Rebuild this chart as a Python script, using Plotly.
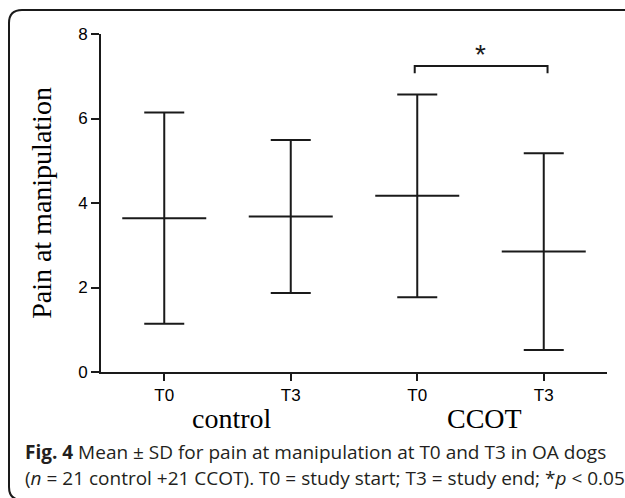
import plotly.graph_objects as go

categories = ["control T0", "control T3", "CCOT T0", "CCOT T3"]
tick_labels = ["T0", "T3", "T0", "T3"]
groups = ["control", "CCOT"]
means = [3.64, 3.68, 4.17, 2.85]
sds = [2.50, 1.81, 2.40, 2.33]
y_ticks = [0, 2, 4, 6, 8]
caption1 = "<b>Fig. 4</b> Mean ± SD for pain at manipulation at T0 and T3 in OA dogs"
caption2 = "(<i>n</i> = 21 control +21 CCOT). T0 = study start; T3 = study end; *<i>p</i> < 0.05"

INK = "#1a1a1a"
L, R, T, B = 101, 607, 34, 372
W, H = R - L, B - T


def px(x):
    return (x - L) / W


def py(y):
    return (B - y) / H


xs = list(range(len(categories)))

fig = go.Figure()
fig.add_trace(go.Scatter(
    x=xs, y=means, mode="markers",
    marker=dict(symbol="line-ew", size=60, color=INK, line=dict(width=2, color=INK)),
    error_y=dict(type="data", array=sds, visible=True, width=20, thickness=2, color=INK),
    showlegend=False, hoverinfo="skip",
))

# significance bracket between CCOT T0 and CCOT T3
fig.add_shape(type="path", xref="x", yref="y",
              path="M 1.98,7.07 L 1.98,7.24 L 3.03,7.24 L 3.03,7.07",
              line=dict(color=INK, width=2))
fig.add_annotation(x=2.5, y=7.52, xref="x", yref="y", text="*", showarrow=False,
                   font=dict(family="Liberation Sans, Arial", size=28, color=INK))

# group labels
for gx, g in zip([0.5, 2.5], groups):
    fig.add_annotation(x=gx, xshift=4, y=py(418), xref="x", yref="paper", text=g,
                       showarrow=False, yanchor="middle",
                       font=dict(family="Liberation Serif, Times New Roman, serif", size=28, color="#000"))

# caption
fig.add_annotation(x=px(23), y=py(452), xref="paper", yref="paper", text=caption1,
                   showarrow=False, xanchor="left", yanchor="middle",
                   font=dict(family="Open Sans", size=19, color="#231f20"))
fig.add_annotation(x=px(23), y=py(478), xref="paper", yref="paper", text=caption2,
                   showarrow=False, xanchor="left", yanchor="middle",
                   font=dict(family="Open Sans", size=19, color="#231f20"))

# rounded frame (open to right/bottom, cropped)
x0, y0, r = 9, 10, 13
yb = 500
frame = (f"M {px(640)},{py(y0)} L {px(x0 + r)},{py(y0)} "
         f"Q {px(x0)},{py(y0)} {px(x0)},{py(y0 + r)} "
         f"L {px(x0)},{py(yb - r)} Q {px(x0)},{py(yb)} {px(x0 + r)},{py(yb)} "
         f"L {px(640)},{py(yb)}")
fig.add_shape(type="path", xref="paper", yref="paper", path=frame,
              line=dict(color=INK, width=2), layer="above")

fig.update_layout(
    width=625, height=498,
    margin=dict(l=L, r=625 - R, t=T, b=498 - B),
    paper_bgcolor="white", plot_bgcolor="white",
    xaxis=dict(range=[-0.5, 3.5], tickvals=xs, ticktext=tick_labels,
               showline=True, linecolor=INK, linewidth=2, ticks="outside",
               ticklen=7, tickwidth=2, tickcolor=INK, showgrid=False, zeroline=False,
               tickfont=dict(family="Liberation Sans, Arial", size=17, color="#000"),
               fixedrange=True, automargin=False),
    yaxis=dict(range=[0, 8], tickvals=y_ticks, showline=True, linecolor=INK, linewidth=2,
               ticks="outside", ticklen=8, tickwidth=2, tickcolor=INK, showgrid=False,
               zeroline=False, automargin=False,
               tickfont=dict(family="Liberation Sans, Arial", size=17, color="#000"),
               title=dict(text="Pain at manipulation", standoff=18,
                          font=dict(family="Liberation Serif, Times New Roman, serif", size=28, color="#000")),
               fixedrange=True),
)

fig.write_html("out.html", config={"displayModeBar": False},
               post_script="document.body.style.margin='0';")
